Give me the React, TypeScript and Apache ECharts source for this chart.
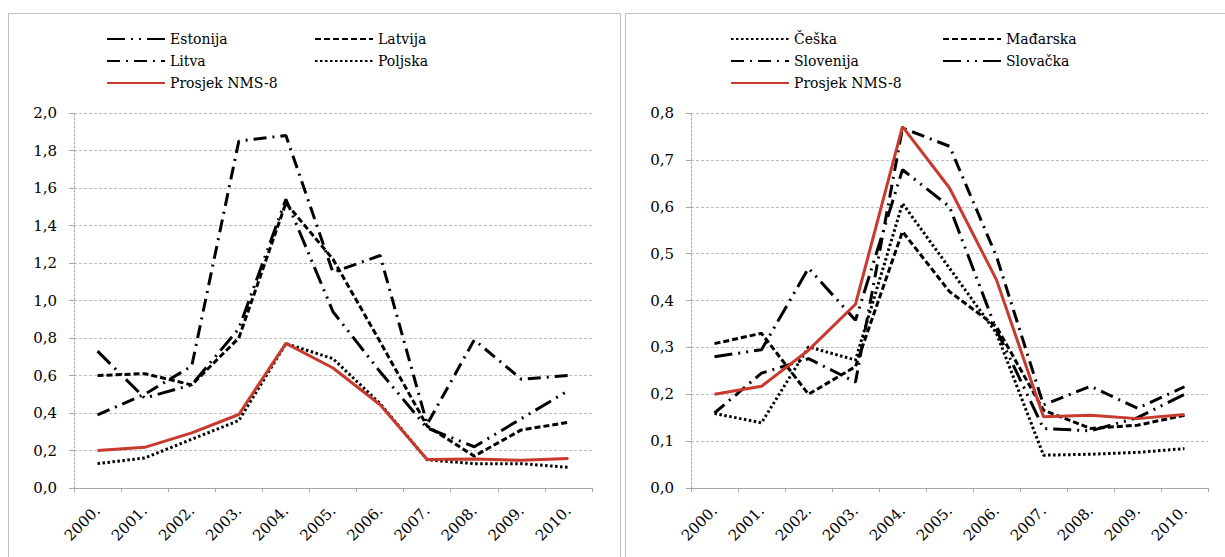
import React, { useEffect, useRef } from "react";
import * as echarts from "echarts";

const years = ["2000.", "2001.", "2002.", "2003.", "2004.", "2005.", "2006.", "2007.", "2008.", "2009.", "2010."];

const estonija = [0.73, 0.48, 0.55, 0.85, 1.54, 0.94, 0.62, 0.32, 0.22, 0.37, 0.52];
const latvija = [0.6, 0.61, 0.55, 0.8, 1.52, 1.22, 0.78, 0.33, 0.17, 0.31, 0.35];
const litva = [0.39, 0.5, 0.65, 1.85, 1.88, 1.15, 1.24, 0.34, 0.79, 0.58, 0.6];
const poljska = [0.13, 0.16, 0.26, 0.36, 0.77, 0.69, 0.45, 0.15, 0.13, 0.13, 0.11];

const ceska = [0.159, 0.139, 0.301, 0.273, 0.607, 0.469, 0.33, 0.07, 0.072, 0.076, 0.084];
const madjarska = [0.308, 0.33, 0.2, 0.259, 0.547, 0.419, 0.344, 0.166, 0.127, 0.134, 0.155];
const slovenija = [0.16, 0.245, 0.276, 0.226, 0.768, 0.729, 0.494, 0.177, 0.217, 0.17, 0.216];
const slovacka = [0.28, 0.295, 0.469, 0.358, 0.679, 0.6, 0.337, 0.127, 0.122, 0.15, 0.2];

const prosjek = [0.2, 0.217, 0.294, 0.392, 0.771, 0.64, 0.444, 0.152, 0.155, 0.148, 0.157];

const FONT = "DejaVu Serif";

const DASH_LONG_DOT_DOT = [18, 6, 2, 6, 2, 6];
const DASHED = [6, 3];
const DASH_DOT = [13, 6, 2, 6];
const DOTTED = [2.5, 2.5];

export default function App() {
  const ref = useRef<HTMLDivElement>(null);

  useEffect(() => {
    if (!ref.current) return;
    const chart = echarts.init(ref.current, null, { renderer: "svg" });

    const mkX = (gridIndex: number) => ({
      type: "category",
      gridIndex,
      data: years,
      boundaryGap: true,
      axisLine: { show: true, lineStyle: { color: "#a6a6a6", width: 1 } },
      axisTick: { show: true, length: 4, lineStyle: { color: "#a6a6a6" } },
      axisLabel: {
        rotate: 45,
        interval: 0,
        margin: 20,
        fontFamily: FONT,
        fontSize: 15,
        color: "#000",
      },
      splitLine: { show: false },
    });

    const mkY = (gridIndex: number, max: number, interval: number) => ({
      type: "value",
      gridIndex,
      min: 0,
      max,
      interval,
      axisLine: { show: true, lineStyle: { color: "#a6a6a6", type: [2, 2] } },
      axisTick: { show: true, length: 5, lineStyle: { color: "#a6a6a6" } },
      axisLabel: {
        margin: 17,
        fontFamily: FONT,
        fontSize: 15,
        color: "#000",
        formatter: (v: number) => v.toFixed(1).replace(".", ","),
      },
      splitLine: { show: true, lineStyle: { color: "#bdbdbd", type: [3, 2] } },
    });

    const mkSeries = (name: string, data: number[], idx: number, dash: any, color = "#000") => ({
      name,
      type: "line",
      xAxisIndex: idx,
      yAxisIndex: idx,
      data,
      symbol: "none",
      lineStyle: { color, width: 3, type: dash, cap: "butt" },
      itemStyle: { color },
      emphasis: { disabled: true },
    });

    const mkLegend = (name: string, left: number, top: number) => ({
      data: [name],
      left,
      top,
      itemWidth: 58,
      itemHeight: 14,
      itemGap: 0,
      padding: 0,
      selectedMode: false,
      itemStyle: { opacity: 0 },
      textStyle: { fontFamily: FONT, fontSize: 14, color: "#000", padding: [0, 0, 0, 0] },
    });

    const rows = [32, 54, 76];

    chart.setOption({
      animation: false,
      backgroundColor: "#fff",
      graphic: [
        {
          type: "rect",
          shape: { x: 8.5, y: 13.5, width: 612, height: 600 },
          style: { fill: "none", stroke: "#c0c0c0", lineWidth: 1 },
          silent: true,
        },
        {
          type: "rect",
          shape: { x: 625.5, y: 13.5, width: 620, height: 600 },
          style: { fill: "none", stroke: "#c0c0c0", lineWidth: 1 },
          silent: true,
        },
      ],
      legend: [
        mkLegend("Estonija", 106, rows[0]),
        mkLegend("Latvija", 314, rows[0]),
        mkLegend("Litva", 106, rows[1]),
        mkLegend("Poljska", 314, rows[1]),
        mkLegend("Prosjek NMS-8 ", 106, rows[2]),
        mkLegend("Češka", 730, rows[0]),
        mkLegend("Mađarska", 942, rows[0]),
        mkLegend("Slovenija", 730, rows[1]),
        mkLegend("Slovačka", 942, rows[1]),
        mkLegend("Prosjek NMS-8", 730, rows[2]),
      ],
      grid: [
        { left: 74, top: 113, width: 518, height: 375 },
        { left: 691, top: 113, width: 517, height: 375 },
      ],
      xAxis: [mkX(0), mkX(1)],
      yAxis: [mkY(0, 2, 0.2), mkY(1, 0.8, 0.1)],
      series: [
        mkSeries("Estonija", estonija, 0, DASH_LONG_DOT_DOT),
        mkSeries("Latvija", latvija, 0, DASHED),
        mkSeries("Litva", litva, 0, DASH_DOT),
        mkSeries("Poljska", poljska, 0, DOTTED),
        mkSeries("Prosjek NMS-8 ", prosjek, 0, "solid", "#c8392e"),
        mkSeries("Češka", ceska, 1, DOTTED),
        mkSeries("Mađarska", madjarska, 1, DASHED),
        mkSeries("Slovenija", slovenija, 1, DASH_DOT),
        mkSeries("Slovačka", slovacka, 1, DASH_LONG_DOT_DOT),
        mkSeries("Prosjek NMS-8", prosjek, 1, "solid", "#c8392e"),
      ],
    });

    return () => chart.dispose();
  }, []);

  return (
    <div
      ref={ref}
      style={{ position: "absolute", left: 0, top: 0, width: 1225, height: 557 }}
    />
  );
}
